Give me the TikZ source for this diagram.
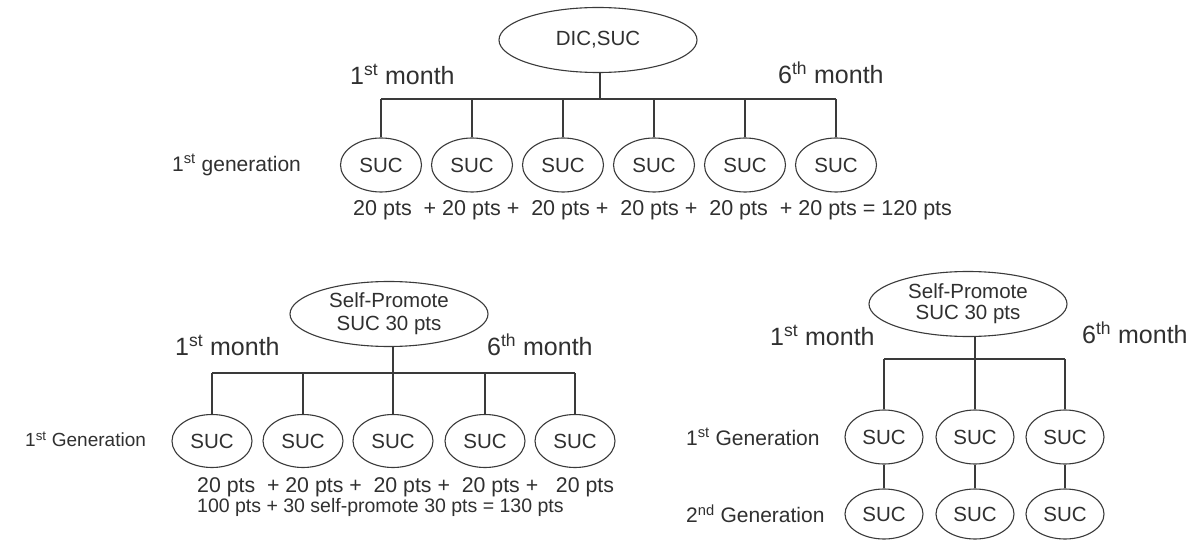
\documentclass[tikz,border=0pt]{standalone}
\usepackage{fontspec}
\setmainfont{Liberation Sans}
\usetikzlibrary{shapes.geometric}
\definecolor{ink}{HTML}{3A3A3A}
\definecolor{txt}{HTML}{303030}
\begin{document}
\begin{tikzpicture}[x=1pt,y=-1pt,
  lbl/.style={font=\fontsize{21}{23}\selectfont, text=txt, inner sep=0pt, anchor=west},
  mon/.style={font=\fontsize{25}{27}\selectfont, text=txt, inner sep=0pt, anchor=west},
  oval/.style={ellipse, draw=ink, line width=1.1pt, inner sep=0pt, text=txt,
     font=\fontsize{20.5}{25}\selectfont, align=center},
  suc/.style={oval, minimum width=81pt, minimum height=54pt},
  big/.style={oval, minimum width=198pt, minimum height=65pt},
  wire/.style={draw=ink, line width=1.1pt}]
\useasboundingbox (0,0) rectangle (1193,540);
\fill[white] (0,0) rectangle (1193,540);

% ---------- top tree ----------
\node[big] (dic) at (598,40) {DIC,SUC};
\node[mon] (tm1) at (350,74) {1\textsuperscript{st} month};
\node[mon] (tm6) at (778,73) {6\textsuperscript{th} month};
\node[lbl] (tgen) at (172,165) {1\textsuperscript{st} generation};
\foreach \i/\x in {1/381,2/472,3/563,4/654,5/745,6/836}
  \node[suc] (t\i) at (\x,165) {SUC};
\coordinate (tbar) at (600,99);
\draw[wire] (t1.north |- tbar) -- (t6.north |- tbar);
\draw[wire] (dic.south -| tbar) -- (tbar);
\foreach \i in {1,...,6}
  \draw[wire] (t\i.north) -- (t\i.north |- tbar);
\node[lbl, font=\fontsize{21.5}{23}\selectfont] (tpts) at (353,210) {20 pts\ \ + 20 pts +\ \ 20 pts +\ \ 20 pts +\ \ 20 pts\ \ + 20 pts = 120 pts};

% ---------- bottom-left tree ----------
\node[big] (spl) at (389,314) {Self-Promote\\[-2pt]SUC 30 pts};
\node[mon] (lm1) at (175,345) {1\textsuperscript{st} month};
\node[mon] (lm6) at (487,345) {6\textsuperscript{th} month};
\node[lbl, font=\fontsize{19}{21}\selectfont] (lgen) at (25,439) {1\textsuperscript{st} Generation};
\foreach \i/\x in {1/212,2/303,3/393,4/485,5/575}
  \node[suc, minimum width=80pt, minimum height=53pt] (l\i) at (\x,441) {SUC};
\coordinate (lbar) at (393,373);
\draw[wire] (l1.north |- lbar) -- (l5.north |- lbar);
\draw[wire] (l3.north) -- (l3.north |- spl.south);
\foreach \i in {1,2,4,5}
  \draw[wire] (l\i.north) -- (l\i.north |- lbar);
\node[lbl, font=\fontsize{21.3}{23}\selectfont] (lpts) at (197,487) {20 pts\ \ + 20 pts +\ \ 20 pts +\ \ 20 pts +\ \ \ 20 pts};
\node[lbl, font=\fontsize{19.5}{21}\selectfont] (ltot) at (197,507) {100 pts + 30 self-promote 30 pts = 130 pts};

% ---------- bottom-right tree ----------
\node[big] (spr) at (968,304) {Self-Promote\\[-4pt]SUC 30 pts};
\node[mon] (rm1) at (770,335) {1\textsuperscript{st} month};
\node[mon] (rm6) at (1082,333) {6\textsuperscript{th} month};
\node[lbl] (rg1) at (686,437) {1\textsuperscript{st} Generation};
\node[lbl] (rg2) at (686,514) {2\textsuperscript{nd} Generation};
\foreach \i/\x in {1/884,2/975,3/1065}{
  \node[suc, minimum width=78pt, minimum height=54pt] (a\i) at (\x,437) {SUC};
  \node[suc, minimum width=78pt, minimum height=50pt] (b\i) at (\x,514) {SUC};
  \draw[wire] (a\i.south) -- (b\i.north);
}
\coordinate (rbar) at (975,359);
\draw[wire] (a1.north |- rbar) -- (a3.north |- rbar);
\draw[wire] (a2.north) -- (a2.north |- spr.south);
\draw[wire] (a1.north) -- (a1.north |- rbar);
\draw[wire] (a3.north) -- (a3.north |- rbar);
\end{tikzpicture}
\end{document}
